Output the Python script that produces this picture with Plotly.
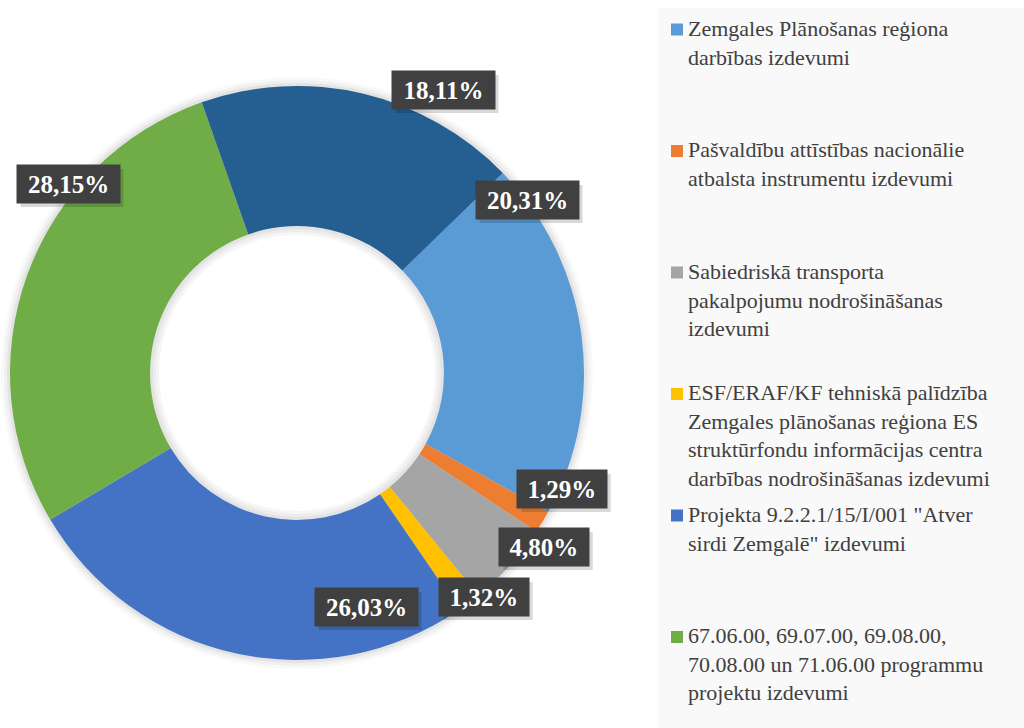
import plotly.graph_objects as go

# ---------------- data ----------------
categories = [
    "Zemgales Plānošanas reģiona<br>darbības izdevumi",
    "Pašvaldību attīstības nacionālie<br>atbalsta instrumentu izdevumi",
    "Sabiedriskā transporta<br>pakalpojumu nodrošināšanas<br>izdevumi",
    "ESF/ERAF/KF tehniskā palīdzība<br>Zemgales plānošanas reģiona ES<br>struktūrfondu informācijas centra<br>darbības nodrošināšanas izdevumi",
    "Projekta 9.2.2.1/15/I/001 \"Atver<br>sirdi Zemgalē\" izdevumi",
    "67.06.00, 69.07.00, 69.08.00,<br>70.08.00 un 71.06.00 programmu<br>projektu izdevumi",
    "Citi izdevumi",
]
values = [20.31, 1.29, 4.80, 1.32, 26.03, 28.15, 18.11]
value_labels = ["20,31%", "1,29%", "4,80%", "1,32%", "26,03%", "28,15%", "18,11%"]
legend_items = 6  # the last slice has no visible legend entry

# ---------------- styling / layout ----------------
SERIF = "Liberation Serif, Times New Roman, serif"
colors = ["#5B9BD5", "#ED7D31", "#A5A5A5", "#FFC000", "#4472C4", "#70AD47", "#255E91"]
W, H = 1024, 728
cx, cy, R = 297, 373, 287
hole = 0.512
# label box centres in pixels (manually placed data labels)
label_pos = [(527, 200), (562, 489), (544, 547), (484, 597), (366, 607), (68, 184), (443, 90)]

def px(x):
    return x / W

def py(y):
    return 1 - y / H

fig = go.Figure()
fig.add_trace(go.Pie(
    labels=categories,
    values=values,
    sort=False,
    direction="clockwise",
    rotation=45.8,
    hole=hole,
    marker=dict(colors=colors, line=dict(width=0)),
    textinfo="none",
    hoverinfo="label+percent",
    showlegend=False,
    domain=dict(x=[px(cx - R), px(cx + R)], y=[py(cy + R), py(cy - R)]),
))

shapes = []
# legend background panel
shapes.append(dict(type="rect", xref="paper", yref="paper",
                   x0=px(658), x1=1, y0=0, y1=py(8),
                   fillcolor="#F9F9F9", line=dict(width=0), layer="below"))
# soft shadow ring around the donut
Rin = R * hole
for d, op in [(9, 0.025), (6, 0.035), (3, 0.05)]:
    ro = R + d
    shapes.append(dict(type="circle", xref="paper", yref="paper",
                       x0=px(cx - ro), x1=px(cx + ro), y0=py(cy + ro), y1=py(cy - ro),
                       fillcolor=f"rgba(0,0,0,{op})", line=dict(width=0), layer="below"))
# white circles cut back the shadow inside the hole, leaving a gradient at the edge
for d, col in [(3, "rgba(255,255,255,0.35)"), (6, "rgba(255,255,255,0.5)"), (9, "#FFFFFF")]:
    ri = Rin - d
    shapes.append(dict(type="circle", xref="paper", yref="paper",
                       x0=px(cx - ri), x1=px(cx + ri), y0=py(cy + ri), y1=py(cy - ri),
                       fillcolor=col, line=dict(width=0), layer="below"))

annotations = []
# legend entries (manual, evenly spaced as in the source)
leg_top, leg_pitch = 29.5, 121.5
for i in range(legend_items):
    yc = leg_top + i * leg_pitch
    shapes.append(dict(type="rect", xref="paper", yref="paper",
                       x0=px(671), x1=px(683), y0=py(yc + 6), y1=py(yc - 6),
                       fillcolor=colors[i], line=dict(width=0)))
    annotations.append(dict(
        x=px(686), y=py(yc - 16), xref="paper", yref="paper",
        xanchor="left", yanchor="top", align="left", showarrow=False,
        text=categories[i],
        font=dict(family=SERIF, size=22, color="#404040"),
    ))

# data labels
for (lx, ly), t in zip(label_pos, value_labels):
    bw = len(t) * 13.5 + 14
    bh = 30
    pad = 4
    hw = bw / 2 + pad
    hh = bh / 2 + pad
    # drop shadow behind the label box
    shapes.append(dict(type="rect", xref="paper", yref="paper",
                       x0=px(lx - hw + 4), x1=px(lx + hw + 4),
                       y0=py(ly + hh + 4), y1=py(ly - hh + 4),
                       fillcolor="rgba(0,0,0,0.15)", line=dict(width=0)))
    annotations.append(dict(
        x=px(lx), y=py(ly), xref="paper", yref="paper",
        xanchor="center", yanchor="middle", showarrow=False,
        text=f"<b>{t}</b>", width=bw, height=bh, borderpad=pad,
        bgcolor="#404040",
        font=dict(family=SERIF, size=25, color="#FFFFFF"),
    ))

fig.update_layout(
    width=W, height=H,
    margin=dict(l=0, r=0, t=0, b=0),
    paper_bgcolor="#FFFFFF",
    plot_bgcolor="#FFFFFF",
    showlegend=False,
    shapes=shapes,
    annotations=annotations,
)

fig.write_html("out.html")
